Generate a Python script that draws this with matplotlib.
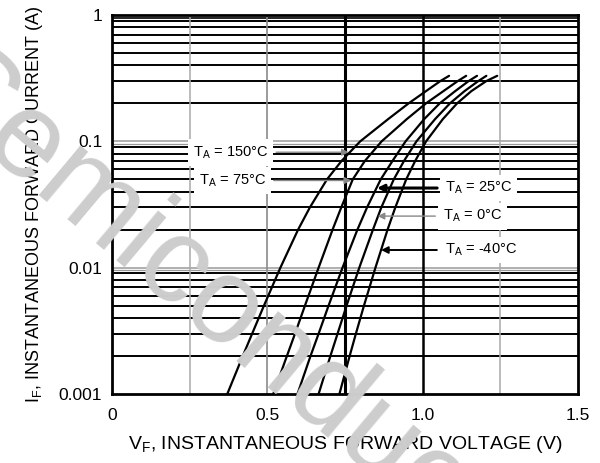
import matplotlib
matplotlib.use("Agg")
import matplotlib.pyplot as plt

plt.rcParams["font.family"] = ["Liberation Sans", "DejaVu Sans"]
plt.rcParams["mathtext.fontset"] = "custom"
plt.rcParams["mathtext.rm"] = "Liberation Sans"

# forward current levels (A) where the curves were read
CURRENT = [0.001, 0.002, 0.003, 0.005, 0.01, 0.02, 0.03, 0.05, 0.07,
           0.1, 0.15, 0.2, 0.25, 0.3, 0.33]

# forward voltage (V) per temperature at the levels above
V_150 = [0.371, 0.421, 0.451, 0.489, 0.542, 0.599, 0.637, 0.692, 0.739,
         0.799, 0.889, 0.955, 1.011, 1.057, 1.085]
V_75 = [0.519, 0.563, 0.589, 0.621, 0.665, 0.710, 0.738, 0.775, 0.814,
        0.868, 0.949, 1.011, 1.067, 1.113, 1.140]
V_25 = [0.597, 0.639, 0.665, 0.697, 0.742, 0.790, 0.821, 0.865, 0.903,
        0.945, 1.005, 1.055, 1.105, 1.148, 1.175]
V_0 = [0.665, 0.703, 0.726, 0.755, 0.796, 0.840, 0.867, 0.907, 0.940,
       0.980, 1.040, 1.088, 1.135, 1.179, 1.205]
V_M40 = [0.732, 0.765, 0.785, 0.811, 0.848, 0.887, 0.912, 0.947, 0.976,
         1.011, 1.065, 1.111, 1.157, 1.205, 1.240]

CURVES = [V_150, V_75, V_25, V_0, V_M40]

# label text, point on curve (V, A), label centre (V, A), arrow colour, arrow width
LABELS = [
    ("150", (0.762, 0.082), (0.382, 0.082), "#888888", 1.0),
    ("75", (0.770, 0.049), (0.387, 0.049), "#888888", 1.0),
    ("25", (0.853, 0.0427), (1.180, 0.0427), "black", 2.2),
    ("0", (0.855, 0.0256), (1.161, 0.0256), "#888888", 1.0),
    ("-40", (0.866, 0.0138), (1.187, 0.0138), "black", 1.4),
]

X_TICKS = [0, 0.5, 1.0, 1.5]
X_TICK_LABELS = ["0", "0.5", "1.0", "1.5"]
Y_TICKS = [0.001, 0.01, 0.1, 1]
Y_TICK_LABELS = ["0.001", "0.01", "0.1", "1"]

fig = plt.figure(figsize=(6.0, 4.63), dpi=100)
ax = fig.add_axes([0.1867, 0.149, 0.7766, 0.8186])
ax.set_facecolor("none")

# watermark behind the grid
fig.text(-0.14, 0.79, "Semiconductor", rotation=-40, rotation_mode="anchor",
         ha="left", va="baseline", fontsize=88, color="#cdcdcd", zorder=0)

ax.set_yscale("log")
ax.set_xlim(0, 1.5)
ax.set_ylim(0.001, 1)

# horizontal grid: black minor lines, grey decade lines
for dec in [0.001, 0.01, 0.1]:
    for m in range(2, 10):
        ax.axhline(dec * m, color="black", lw=1.4, zorder=1)
for dec in [0.01, 0.1]:
    ax.axhline(dec, color="#9a9a9a", lw=1.1, zorder=1)
    ax.axhline(dec * 0.95, color="#9a9a9a", lw=0.9, zorder=1)
ax.axhline(0.95, color="black", lw=1.2, zorder=1)

# vertical grid
ax.axvline(0.25, color="#a8a8a8", lw=1.1, zorder=1)
ax.axvline(0.5, color="#8a8a8a", lw=1.2, zorder=1)
ax.axvline(0.75, color="black", lw=2.2, zorder=1)
ax.axvline(1.0, color="black", lw=1.8, zorder=1)
ax.axvline(1.25, color="#a8a8a8", lw=1.1, zorder=1)

for v in CURVES:
    ax.plot(v, CURRENT, color="black", lw=1.6, zorder=3,
            solid_capstyle="round", solid_joinstyle="round")

for temp, tip, pos, col, w in LABELS:
    ax.annotate(r"T$_\mathregular{A}$ = " + temp + "\u00b0C", xy=tip, xytext=pos,
                ha="center", va="center", fontsize=10.5, zorder=4,
                bbox=dict(boxstyle="square,pad=0.35", fc="white", ec="none"),
                arrowprops=dict(arrowstyle="-|>", color=col, lw=w,
                                mutation_scale=10, shrinkA=2, shrinkB=0))

for s in ax.spines.values():
    s.set_linewidth(2.0)
    s.set_color("black")
    s.set_zorder(5)

ax.set_xticks(X_TICKS)
ax.set_xticklabels(X_TICK_LABELS, fontsize=12.5)
ax.set_yticks(Y_TICKS)
ax.set_yticklabels(Y_TICK_LABELS, fontsize=12.5)
ax.minorticks_off()
ax.tick_params(axis="both", length=0)
ax.tick_params(axis="x", pad=10)
ax.tick_params(axis="y", pad=7)

ax.set_xlabel(r"V$_\mathregular{F}$, INSTANTANEOUS FORWARD VOLTAGE (V)",
              fontsize=14, labelpad=8)
ax.set_ylabel(r"I$_\mathregular{F}$, INSTANTANEOUS FORWARD CURRENT (A)",
              fontsize=13, labelpad=10)

fig.savefig("out.png", dpi=100)
